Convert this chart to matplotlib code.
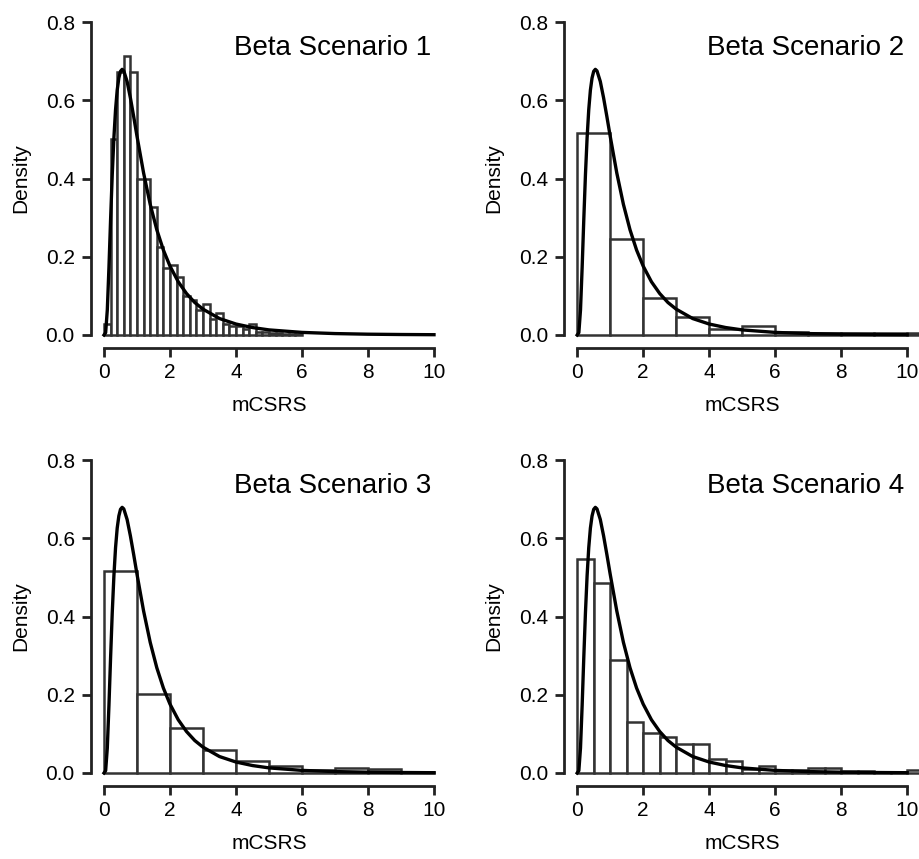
import numpy as np
import matplotlib
matplotlib.use("Agg")
import matplotlib.pyplot as plt

plt.rcParams['font.family'] = ['Liberation Sans', 'DejaVu Sans']

# histogram densities
s1_edges = np.round(np.arange(0, 6.01, 0.2), 2)
s1_dens = [0.028, 0.50, 0.673, 0.713, 0.673, 0.40, 0.40, 0.328, 0.225, 0.17,
           0.178, 0.148, 0.10, 0.09, 0.063, 0.079, 0.04, 0.055, 0.028, 0.024,
           0.022, 0.015, 0.028, 0.008, 0.008, 0.005, 0.005, 0.003, 0.003, 0.002]

s2_edges = np.arange(0, 12, 1)
s2_dens = [0.517, 0.246, 0.094, 0.047, 0.016, 0.023, 0.008, 0.006, 0.004, 0.004, 0.006]

s3_edges = np.arange(0, 11, 1)
s3_dens = [0.517, 0.202, 0.116, 0.060, 0.031, 0.017, 0.007, 0.014, 0.009, 0.003]

s4_edges = np.arange(0, 10.51, 0.5)
s4_dens = [0.547, 0.486, 0.289, 0.13, 0.101, 0.093, 0.075, 0.074, 0.037, 0.030,
           0.009, 0.018, 0.007, 0.007, 0.014, 0.014, 0.006, 0.005, 0.003, 0.003, 0.008]

# density curve, same in every panel
curve_x = [0, 0.05, 0.1, 0.15, 0.2, 0.25, 0.3, 0.35, 0.4, 0.45, 0.5, 0.55, 0.6,
           0.7, 0.8, 0.9, 1.0, 1.2, 1.4, 1.6, 1.8, 2.0, 2.25, 2.5, 2.75, 3.0,
           3.5, 4.0, 4.5, 5.0, 6.0, 7.0, 8.0, 9.0, 10.0]
curve_y = [0, 0.006, 0.064, 0.173, 0.296, 0.410, 0.504, 0.576, 0.626, 0.657,
           0.674, 0.679, 0.675, 0.648, 0.606, 0.558, 0.508, 0.414, 0.334, 0.269,
           0.217, 0.176, 0.136, 0.106, 0.083, 0.066, 0.042, 0.028, 0.019, 0.013,
           0.0066, 0.0036, 0.002, 0.0012, 0.0007]

titles = ["Beta Scenario 1", "Beta Scenario 2", "Beta Scenario 3", "Beta Scenario 4"]
panels = [(s1_edges, s1_dens), (s2_edges, s2_dens), (s3_edges, s3_dens), (s4_edges, s4_dens)]

fig = plt.figure(figsize=(9.19, 8.59), dpi=100)
W, H = 919, 859
ax_w, ax_h = 356.4, 338
corners = [(90.8, 347.5), (564, 347.5), (90.8, 785.5), (564, 785.5)]

for k in range(4):
    x0, yb = corners[k]
    ax = fig.add_axes([x0 / W, 1 - yb / H, ax_w / W, ax_h / H])
    edges, dens = panels[k]
    edges = np.asarray(edges, dtype=float)
    ax.bar(edges[:-1], dens, width=np.diff(edges), align='edge',
           facecolor='white', edgecolor='#333333', linewidth=1.8, zorder=2)
    ax.plot(curve_x, curve_y, color='black', lw=2.4, zorder=3,
            solid_joinstyle='round')
    ax.set_xlim(-0.4, 10.4)
    ax.set_ylim(-0.032, 0.832)
    ax.set_xticks([0, 2, 4, 6, 8, 10])
    ax.set_yticks([0.0, 0.2, 0.4, 0.6, 0.8])
    ax.set_yticklabels(["0.0", "0.2", "0.4", "0.6", "0.8"])
    for sp in ['top', 'right']:
        ax.spines[sp].set_visible(False)
    ax.spines['left'].set_bounds(0, 0.8)
    ax.spines['bottom'].set_bounds(0, 10)
    for sp in ['left', 'bottom']:
        ax.spines[sp].set_linewidth(2.0)
        ax.spines[sp].set_color('#222222')
    ax.tick_params(length=6.5, width=2.0, color='#222222', labelsize=15, pad=5)
    ax.set_xlabel("mCSRS", fontsize=15, labelpad=10)
    ax.set_ylabel("Density", fontsize=15, labelpad=11)
    ax.text(9.92, 0.716, titles[k], ha='right', va='baseline', fontsize=20)

fig.savefig("out.png", dpi=100)
